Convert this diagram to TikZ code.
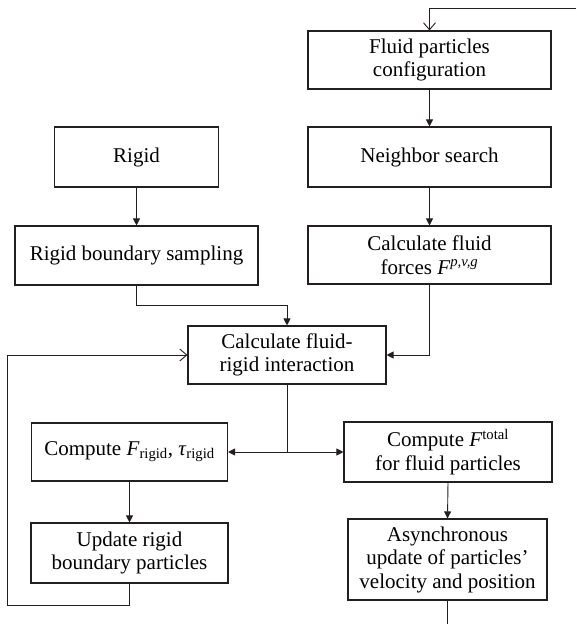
\documentclass[tikz,border=0pt]{standalone}
\usepackage{fontspec}
\setmainfont{Liberation Serif}
\usetikzlibrary{arrows.meta,calc}
\definecolor{ink}{RGB}{35,31,32}
\begin{document}
\begin{tikzpicture}[x=1pt,y=-1pt,
  box/.style={draw=ink, line width=1.1pt, fill=white, inner sep=0pt, align=center,
    text=black, font=\fontsize{21}{23.5}\selectfont},
  conn/.style={draw=ink, line width=0.9pt},
  arr/.style={conn, -{Triangle[length=7pt,width=7pt]}},
  openarr/.style={conn, -{Straight Barb[length=7pt,width=12pt,line width=0.9pt]}}]
\useasboundingbox (0,0) rectangle (576,624);

% right column
\node[box, minimum width=243pt, minimum height=58pt] (cfg) at (429.5,60) {Fluid particles\\configuration};
\node[box, minimum width=243pt, minimum height=60pt] (nb) at (429.5,157) {Neighbor search};
\node[box, minimum width=243pt, minimum height=58pt] (forces) at (429.5,255) {Calculate fluid\\forces \textit{F}\textsuperscript{\textit{p,v,g}}};

% left column
\node[box, minimum width=164pt, minimum height=60pt] (rigid) at (136.5,157) {Rigid};
\node[box, minimum width=243pt, minimum height=59pt] (sampling) at (136.5,255.5) {Rigid boundary sampling};

% middle
\node[box, minimum width=198pt, minimum height=58pt] (interact) at (287,355) {Calculate fluid-\\rigid interaction};

% lower
\node[box, minimum width=196pt, minimum height=58pt] (frigid) at (129.5,452) {Compute \textit{F}\textsubscript{rigid}, \textit{τ}\textsubscript{rigid}};
\node[box, minimum width=208pt, minimum height=60pt] (ftotal) at (448,452) {Compute \textit{F}\textsuperscript{total}\\for fluid particles};
\node[box, minimum width=197pt, minimum height=60pt] (update) at (129.5,553) {Update rigid\\boundary particles};
\node[box, minimum width=199pt, minimum height=81pt] (async) at (447.5,559.5) {Asynchronous\\update of particles’\\velocity and position};

% free ends and bends
\coordinate (topr) at (576,8);
\coordinate (bot) at (447.5,624);
\coordinate (fbl) at (7,605);
\coordinate (split) at (287,452);

% connectors
\draw[openarr] (topr) -| (cfg.north);
\draw[arr] (cfg.south) -- (nb.north);
\draw[arr] (nb.south) -- (forces.north);
\draw[arr] (rigid.south) -- (sampling.north);
\draw[arr] (sampling.south) -- ++(0,20) -| (interact.north);
\draw[arr] (forces.south) |- (interact.east);
\draw[conn] (interact.south) -- (split);
\draw[arr] (split) -- (frigid.east);
\draw[arr] (split) -- (ftotal.west);
\draw[arr] (frigid.south) -- (update.north);
\draw[arr] (ftotal.south) -- (async.north);
\draw[openarr] (update.south) |- (fbl) |- (interact.west);
\draw[conn] (async.south) -- (bot);
\end{tikzpicture}
\end{document}
